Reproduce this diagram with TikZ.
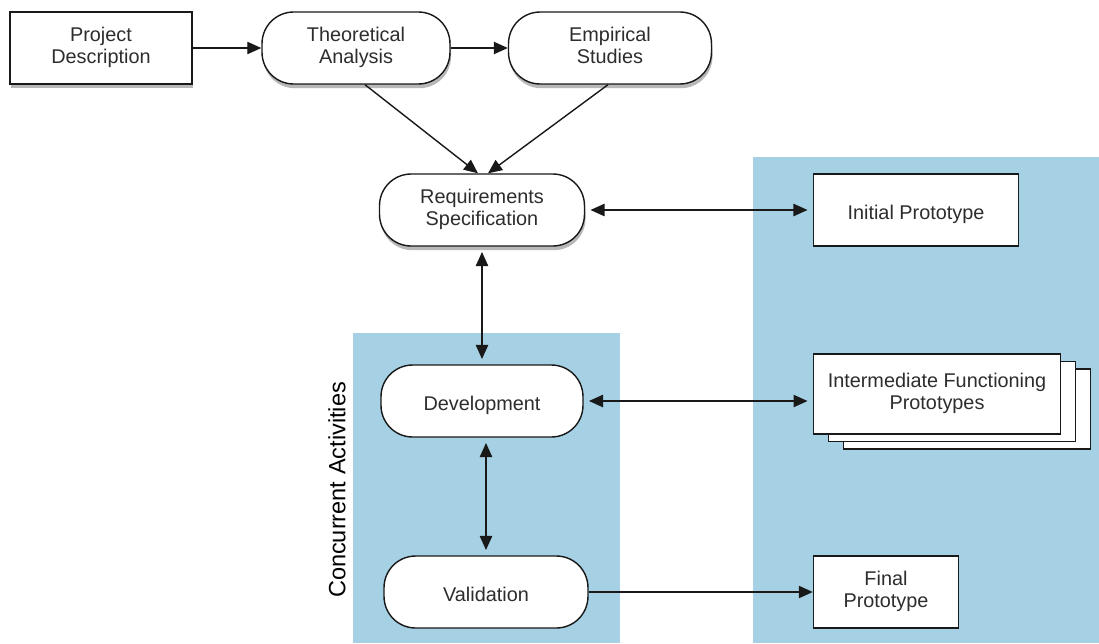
\documentclass[tikz,border=0pt]{standalone}
\usepackage{fontspec}
\setmainfont{Liberation Sans}
\usepackage{tikz}
\usetikzlibrary{arrows.meta, positioning, calc, shadows}
\definecolor{panelblue}{RGB}{166,209,228}
\definecolor{boxline}{RGB}{25,25,25}
\definecolor{boxtext}{RGB}{45,45,45}
\tikzset{
  box/.style={rectangle, draw=boxline, fill=white, line width=0.8pt,
    align=center, font=\fontsize{11.3}{12.5}\selectfont, text=boxtext,
    minimum height=1.44cm, inner sep=2pt,
    execute at begin node=\rule{0pt}{13.5pt},
    execute at end node=\rule[-3pt]{0pt}{3pt}},
  pill/.style={box, rounded corners=18pt},
  shady/.style={drop shadow={shadow xshift=0.6pt, shadow yshift=-2.4pt,
    fill=black, opacity=0.28}},
  stack/.style={box, double copy shadow={shadow xshift=0.3cm,
    shadow yshift=-0.15cm}},
  arrow/.style={-{Triangle[length=8pt,width=7pt]}, line width=0.8pt, color=boxline},
  biarrow/.style={{Triangle[length=8pt,width=7pt]}-{Triangle[length=8pt,width=7pt]},
    line width=0.8pt, color=boxline, shorten <=3pt, shorten >=3pt}
}
\begin{document}
\begin{tikzpicture}[x=0.02cm, y=-0.02cm]
  \useasboundingbox (0,0) rectangle (1099,643);
  % Shaded panels
  \fill[panelblue] (753,157) rectangle (1099,643);
  \fill[panelblue] (353,333) rectangle (620,643);
  \node[rotate=90, font=\fontsize{13.4}{16}\selectfont] (conc) at (337,490) {Concurrent Activities};
  % Top row
  \node[box, shady, minimum width=3.64cm] (pd) at (101,48) {Project\\Description};
  \node[pill, shady, minimum width=3.76cm] (ta) at (356,48) {Theoretical\\Analysis};
  \node[pill, shady, minimum width=4.06cm] (es) at (610,48) {Empirical\\Studies};
  % Activities
  \node[pill, shady, minimum width=4.1cm] (rs) at (482,210) {Requirements\\Specification};
  \node[pill, minimum width=4.04cm] (dev) at (482,401) {Development};
  \node[pill, minimum width=4.08cm] (val) at (486,592) {Validation};
  % Prototypes
  \node[box, minimum width=4.1cm] (ip) at (916,210) {Initial Prototype};
  \node[stack, minimum width=4.94cm, minimum height=1.6cm] (ifp) at (937,394) {Intermediate Functioning\\Prototypes};
  \node[box, minimum width=2.9cm] (fp) at (886,592) {Final\\Prototype};
  % Connectors
  \draw[arrow] (pd) -- (ta);
  \draw[arrow] (ta) -- (es);
  \draw[arrow] ($(ta.south)+(9,0)$) -- ($(rs.north)+(-4,0)$);
  \draw[arrow] ($(es.south)+(-2,0)$) -- ($(rs.north)+(6,0)$);
  \draw[biarrow] (rs.east) -- (ip.west);
  \draw[biarrow] (rs.south) -- (dev.north);
  \draw[biarrow] (dev.east) -- (dev.east -| ifp.west);
  \draw[biarrow] (val.north |- dev.south) -- (val.north);
  \draw[arrow] (val.east) -- (val.east -| fp.west);
\end{tikzpicture}
\end{document}
